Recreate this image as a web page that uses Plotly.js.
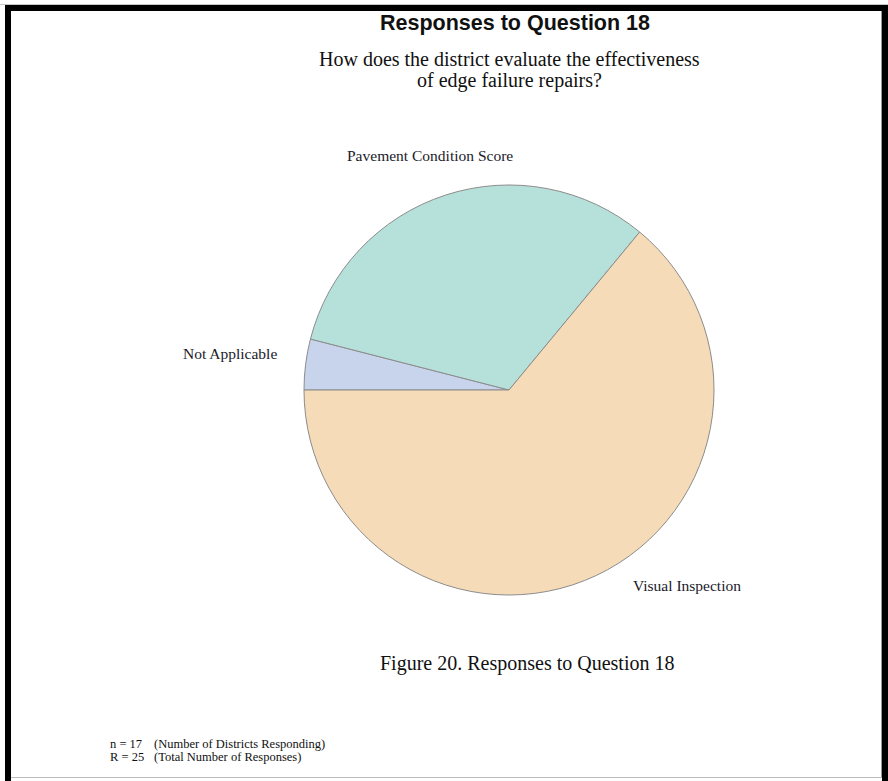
<!DOCTYPE html>
<html>
<head>
<meta charset="utf-8">
<script src="https://cdn.plot.ly/plotly-3.0.1.min.js"></script>
<style>
html,body{margin:0;padding:0;background:#fff;}
#chart{width:888px;height:781px;}
</style>
</head>
<body>
<div id="chart"></div>
<script>
// ---- data ----
const labels = ["Not Applicable", "Pavement Condition Score", "Visual Inspection"];
const counts = [1, 8, 16];
const sliceColors = ["#C8D4EC", "#B6E0DA", "#F5DBB7"];
const titleText = "Responses to Question 18";
const subtitleLines = ["How does the district evaluate the effectiveness", "of edge failure repairs?"];
const captionText = "Figure 20. Responses to Question 18";
const noteLines = [["n = 17", "(Number of Districts Responding)"], ["R = 25", "(Total Number of Responses)"]];

// ---- helpers (pixel -> paper) ----
const W = 888, H = 781;
const px = x => x / W;
const py = y => 1 - y / H;

const serif = "Liberation Serif, Times New Roman, serif";
const sans = "Liberation Sans, Arial, sans-serif";

// label placement (layout only), same order as labels
const labelPos = [[230, 353], [430, 155], [687, 585]];

const annotations = [];
annotations.push({text: "<b>" + titleText + "</b>", x: px(515), y: py(23), xref: "paper", yref: "paper",
  showarrow: false, font: {family: sans, size: 21.5, color: "#111"}, xanchor: "center", yanchor: "middle"});
annotations.push({text: subtitleLines[0], x: px(509), y: py(59), xref: "paper", yref: "paper",
  showarrow: false, font: {family: serif, size: 20, color: "#111"}, xanchor: "center", yanchor: "middle"});
annotations.push({text: subtitleLines[1], x: px(509), y: py(81), xref: "paper", yref: "paper",
  showarrow: false, font: {family: serif, size: 20, color: "#111"}, xanchor: "center", yanchor: "middle"});
labels.forEach((lab, i) => {
  annotations.push({text: lab, x: px(labelPos[i][0]), y: py(labelPos[i][1]), xref: "paper", yref: "paper",
    showarrow: false, font: {family: serif, size: 15.5, color: "#1a1a2a"}, xanchor: "center", yanchor: "middle"});
});
annotations.push({text: captionText, x: px(527), y: py(663), xref: "paper", yref: "paper",
  showarrow: false, font: {family: serif, size: 20, color: "#111"}, xanchor: "center", yanchor: "middle"});
noteLines.forEach((ln, i) => {
  const y = py(744 + i * 13);
  annotations.push({text: ln[0], x: px(108), y: y, xref: "paper", yref: "paper", showarrow: false,
    font: {family: serif, size: 12.5, color: "#111"}, xanchor: "left", yanchor: "middle"});
  annotations.push({text: ln[1], x: px(152), y: y, xref: "paper", yref: "paper", showarrow: false,
    font: {family: serif, size: 12.5, color: "#111"}, xanchor: "left", yanchor: "middle"});
});

const shapes = [
  {type: "rect", xref: "paper", yref: "paper", x0: px(0), x1: px(888), y0: py(4), y1: py(5), fillcolor: "#c8c8c8", line: {width: 0}},
  {type: "rect", xref: "paper", yref: "paper", x0: px(5), x1: px(888), y0: py(5), y1: py(11), fillcolor: "#000", line: {width: 0}},
  {type: "rect", xref: "paper", yref: "paper", x0: px(5), x1: px(11), y0: py(5), y1: py(781), fillcolor: "#000", line: {width: 0}},
  {type: "rect", xref: "paper", yref: "paper", x0: px(882), x1: px(888), y0: py(5), y1: py(781), fillcolor: "#000", line: {width: 0}},
  {type: "rect", xref: "paper", yref: "paper", x0: px(881), x1: px(882), y0: py(11), y1: py(778), fillcolor: "#999", line: {width: 0}},
  {type: "rect", xref: "paper", yref: "paper", x0: px(11), x1: px(882), y0: py(777), y1: py(778), fillcolor: "#bbb", line: {width: 0}}
];

const cx = 509, cy = 390, r = 205;
const trace = {
  type: "pie",
  labels: labels,
  values: counts,
  sort: false,
  direction: "clockwise",
  rotation: -90,
  textinfo: "none",
  hoverinfo: "label+value",
  marker: {colors: sliceColors, line: {color: "#8c8c8c", width: 1}},
  domain: {x: [px(cx - r), px(cx + r)], y: [py(cy + r), py(cy - r)]},
  showlegend: false
};

Plotly.newPlot("chart", [trace], {
  width: W, height: H,
  margin: {l: 0, r: 0, t: 0, b: 0},
  paper_bgcolor: "#fff",
  showlegend: false,
  annotations: annotations,
  shapes: shapes
}, {displayModeBar: false, staticPlot: true});
</script>
</body>
</html>
